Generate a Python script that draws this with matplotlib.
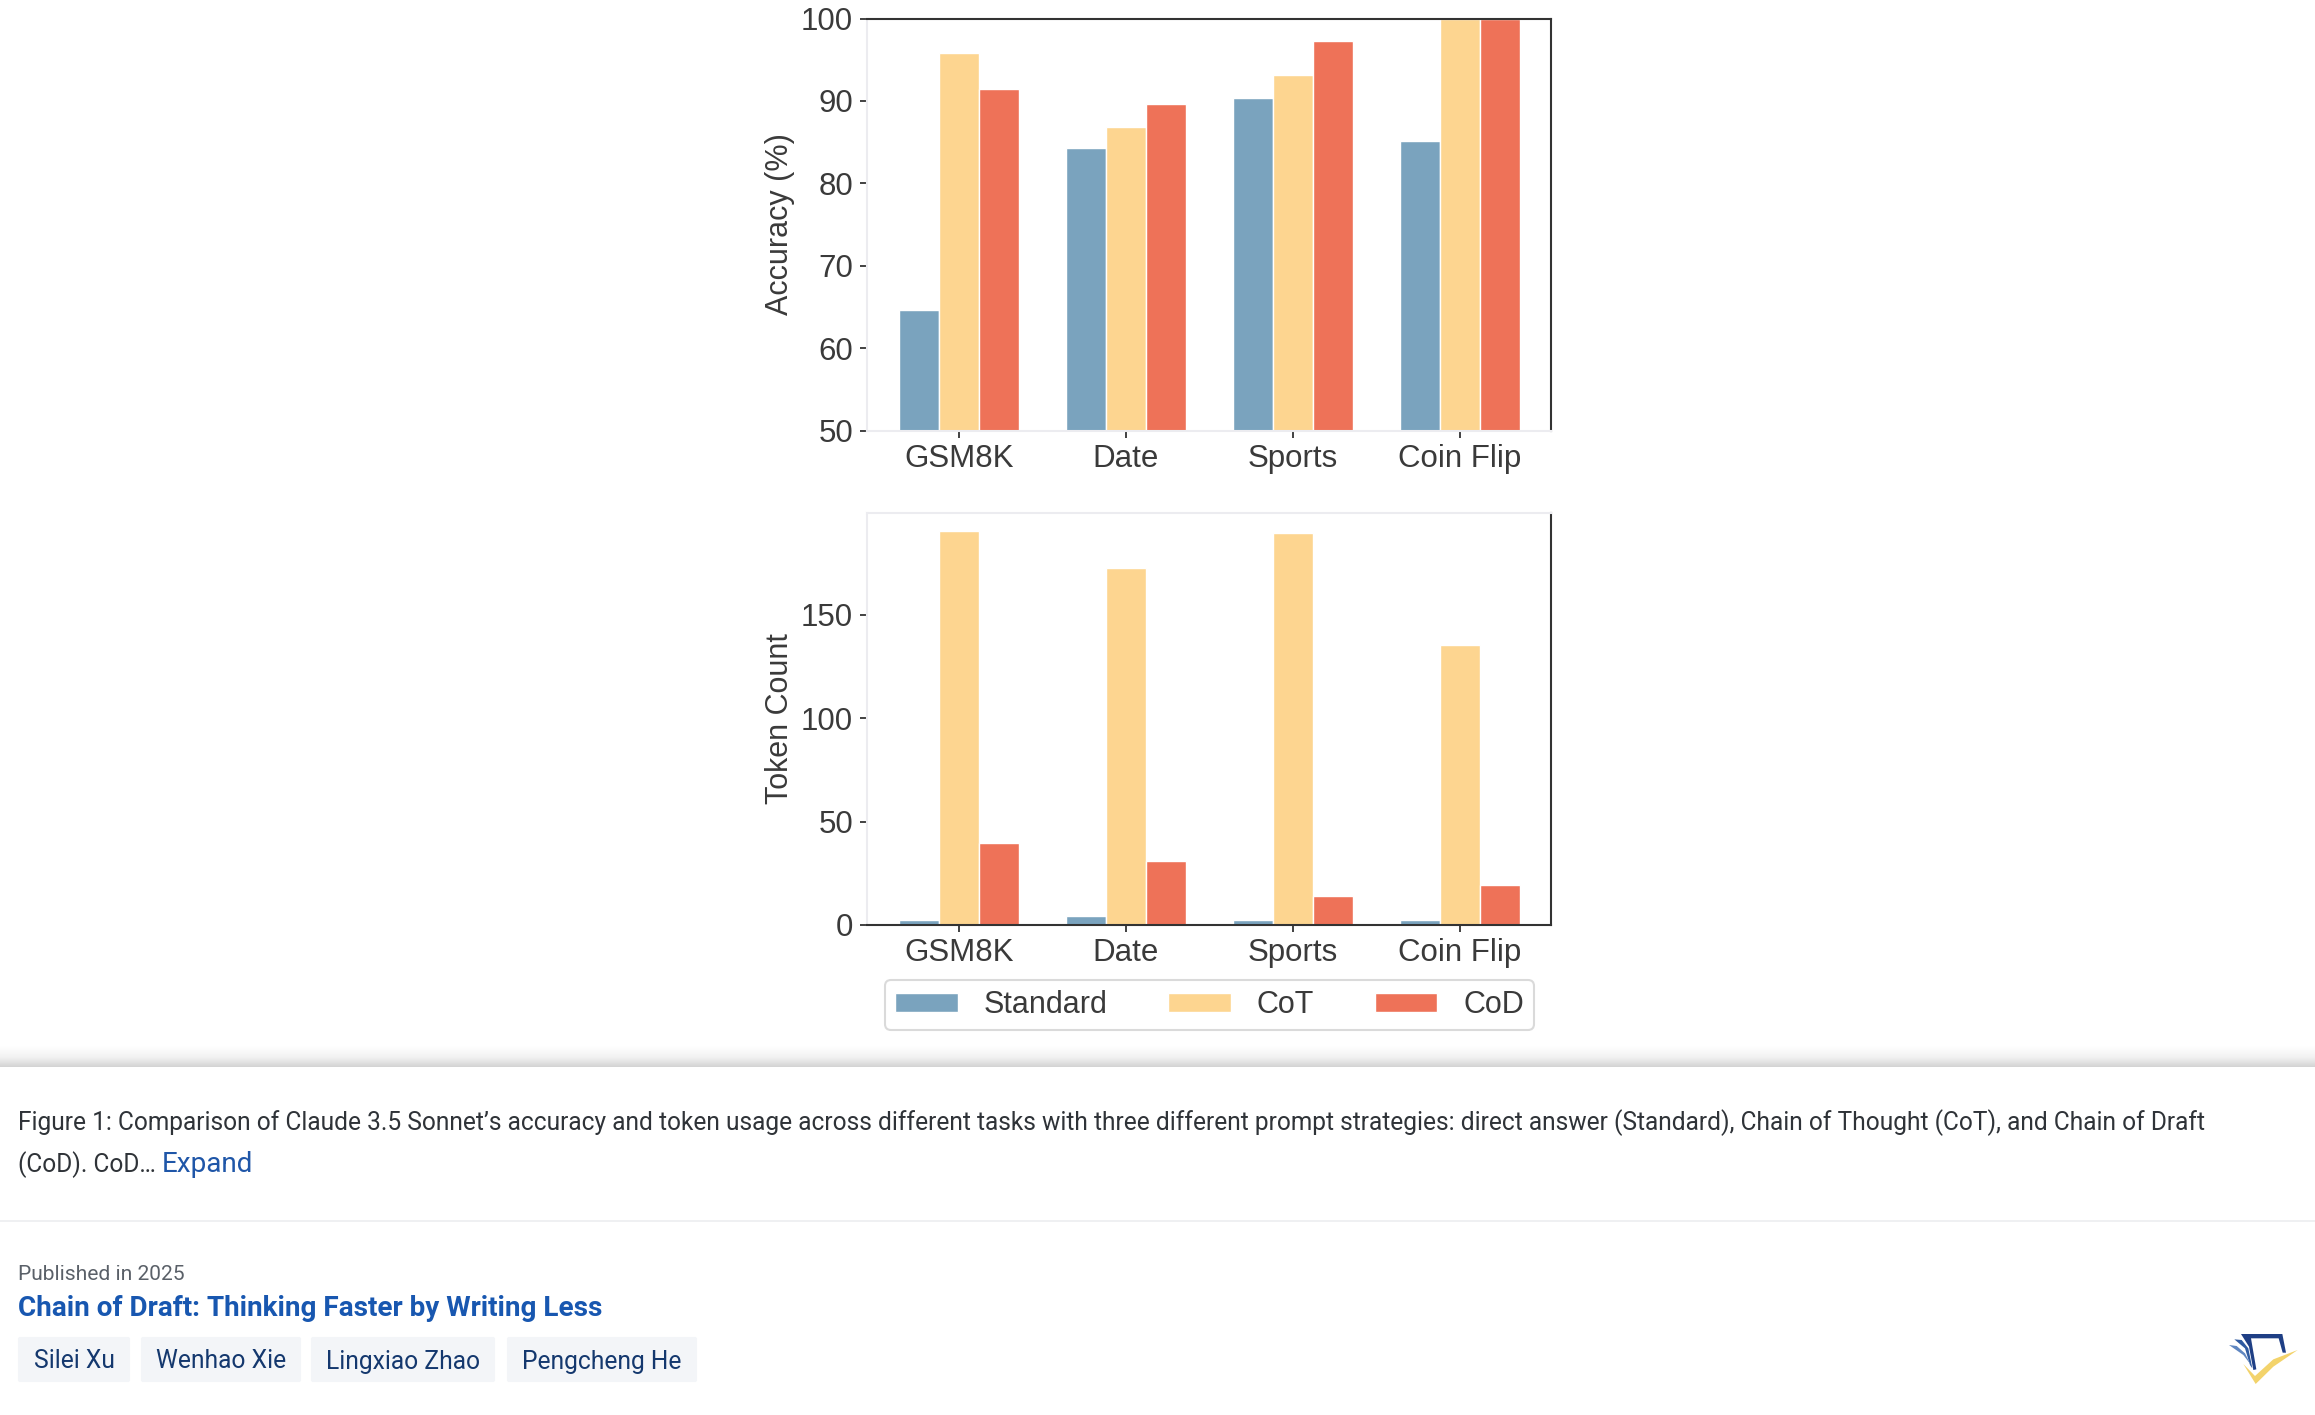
import matplotlib
matplotlib.use("Agg")
import matplotlib.pyplot as plt
import numpy as np
from matplotlib.patches import Polygon, Rectangle, FancyBboxPatch

W, H = 2315, 1415
categories = ["GSM8K", "Date", "Sports", "Coin Flip"]
series_names = ["Standard", "CoT", "CoD"]
acc_standard = [64.6, 84.3, 90.4, 85.1]
acc_cot = [95.8, 86.8, 93.2, 100.0]
acc_cod = [91.4, 89.6, 97.3, 100.0]
tok_standard = [2.2, 4.5, 2.2, 2.2]
tok_cot = [190.7, 172.7, 189.8, 135.4]
tok_cod = [39.7, 31.0, 14.2, 19.4]
colors = ["#7AA3BE", "#FDD590", "#EE7258"]
acc_ticks = [50, 60, 70, 80, 90, 100]
tok_ticks = [0, 50, 100, 150]
caption1 = ("Figure 1: Comparison of Claude 3.5 Sonnet\u2019s accuracy and token usage across different tasks "
            "with three different prompt strategies: direct answer (Standard), Chain of Thought (CoT), and Chain of Draft")
caption2 = "(CoD). CoD\u2026 "
expand = "Expand"
published = "Published in 2025"
title = "Chain of Draft: Thinking Faster by Writing Less"
authors = ["Silei Xu", "Wenhao Xie", "Lingxiao Zhao", "Pengcheng He"]

plt.rcParams["font.family"] = ["Liberation Sans", "DejaVu Sans"]
fig = plt.figure(figsize=(W / 100, H / 100), dpi=100, facecolor="white")


def rect_axes(x0, y0, x1, y1):
    return fig.add_axes([x0 / W, 1 - y1 / H, (x1 - x0) / W, (y1 - y0) / H])


TXT = "#3A3A3A"
DARK = "#333333"
LIGHT = "#ECECF0"


def panel(ax, data, ylim, ticks, ylabel, dark_spines):
    x = np.arange(len(categories))
    for i, vals in enumerate(data):
        ax.bar(x + (i - 1) * 0.24, vals, 0.24, color=colors[i], edgecolor="white",
               linewidth=1.0, label=series_names[i], zorder=2)
    ax.set_xlim(-0.55, 3.545)
    ax.set_ylim(*ylim)
    ax.set_xticks(x, categories)
    ax.set_yticks(ticks)
    ax.tick_params(axis="both", labelsize=22.5, labelcolor=TXT, color=DARK, length=5, width=1.3, pad=5)
    ax.tick_params(axis="x", pad=4.5)
    ax.xaxis.get_major_ticks()[0].tick1line.set_color("#DDDDDD")
    ax.set_ylabel(ylabel, fontsize=22, color=TXT)
    for side, sp in ax.spines.items():
        sp.set_linewidth(1.5)
        sp.set_color(DARK if side in dark_spines else LIGHT)
    ax.yaxis.set_label_coords(-0.1055, 0.5)


ax1 = rect_axes(867, 18.5, 1551, 430.5)
panel(ax1, [acc_standard, acc_cot, acc_cod], (50, 100), acc_ticks, "Accuracy (%)", {"top", "right"})
ax2 = rect_axes(867, 513, 1551, 925)
panel(ax2, [tok_standard, tok_cot, tok_cod], (0, 199.3), tok_ticks, "Token Count", {"bottom", "right"})

leg = ax2.legend(
    ncol=3, loc="center", bbox_to_anchor=(1209.5 / W, 1 - 1005 / H), bbox_transform=fig.transFigure,
    fontsize=22, labelcolor=TXT, frameon=True, fancybox=True, edgecolor="#DADADA", framealpha=1,
    handlelength=2.05, handleheight=0.6, handletextpad=0.85, columnspacing=1.98,
    borderpad=0.32, borderaxespad=0)
leg.get_frame().set_linewidth(1.5)

# page furniture in pixel coordinates
bg = fig.add_axes([0, 0, 1, 1], zorder=5)
bg.set_axis_off()
bg.patch.set_alpha(0)
grad = np.concatenate([np.linspace(1.0, 0.95, 20), np.linspace(0.95, 0.83, 20)]).reshape(-1, 1)
bg.imshow(grad, cmap="gray", vmin=0, vmax=1, extent=(0, W, 1067.5, 1047), aspect="auto", zorder=1)
bg.add_patch(Rectangle((0, 1067.5), W, H - 1067.5, fc="white", ec="none", zorder=1))
bg.set_xlim(0, W)
bg.set_ylim(H, 0)
bg.add_patch(Rectangle((0, 1220), W, 2, fc="#EFF0F2", ec="none", zorder=2))

ROB = ["Roboto", "DejaVu Sans"]
bg.text(18, 1123, caption1, family=ROB, fontsize=17.65, color="#2F3338", va="center", zorder=3)
bg.text(18, 1165, caption2, family=ROB, fontsize=17.65, color="#2F3338", va="center", zorder=3)
bg.text(162, 1164, expand, family=ROB, fontsize=20.1, color="#1F56A8", va="center", zorder=3)
bg.text(18, 1274, published, family=ROB, fontsize=15.1, color="#5A6068", va="center", zorder=3)
bg.text(18, 1309, title, family=ROB, fontsize=20.1, fontweight="bold", color="#1857B0", va="center", zorder=3)
chips = [(18, 130), (141, 301), (311, 495), (507, 697)]
for (a, b), name in zip(chips, authors):
    bg.add_patch(FancyBboxPatch((a + 2, 1339), b - a - 4, 41, boxstyle="round,pad=0,rounding_size=0",
                                fc="#F3F5F8", ec="#F3F5F8", lw=3, joinstyle="round", zorder=2))
    bg.text((a + b) / 2, 1361.5, name, family=ROB, fontsize=17.7, color="#14386E", ha="center", va="center", zorder=3)


def logo(pts, color):
    bg.add_patch(Polygon([(2195 + x / 3, 1310 + y / 3) for x, y in pts], closed=True, fc=color, ec="none", zorder=3))


logo([(138, 72), (262, 72), (273, 128), (263, 128), (251, 85), (168, 85), (184, 178), (175, 180), (162, 110)], "#1F3F85")
logo([(118, 88), (140, 90), (160, 115), (172, 175), (165, 165), (150, 115)], "#2F5AA0")
logo([(102, 105), (125, 108), (150, 130), (168, 165), (145, 135)], "#5F86C0")
logo([(145, 162), (180, 198), (235, 148), (308, 120), (235, 170), (182, 222)], "#F3D36B")

fig.savefig("out.png", dpi=100, facecolor="white")
